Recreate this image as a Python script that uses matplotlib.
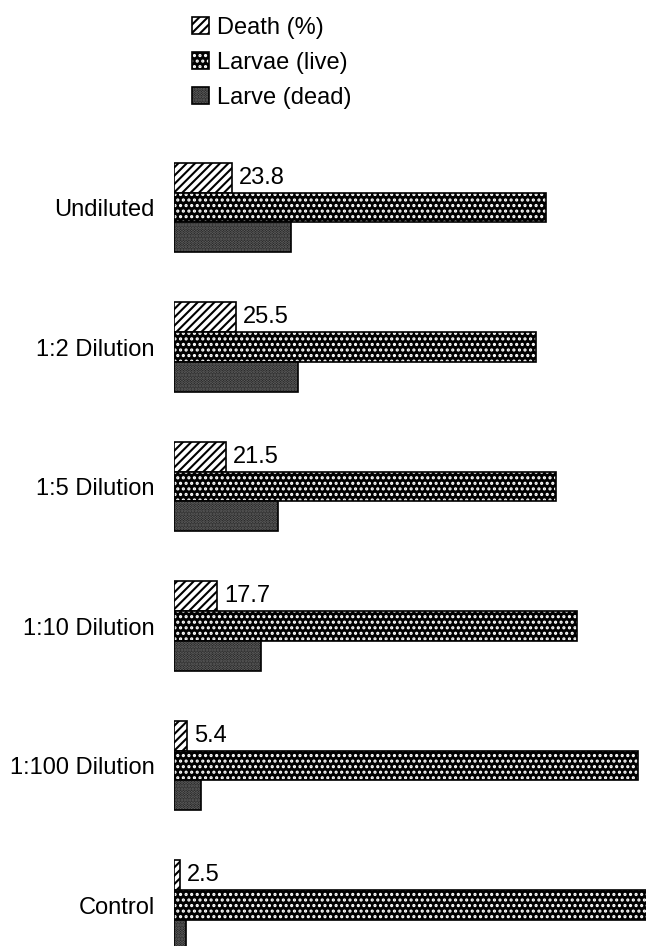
import matplotlib
matplotlib.use('Agg')
import matplotlib.pyplot as plt
from matplotlib.patches import Patch
from matplotlib.legend_handler import HandlerTuple
import numpy as np

groups = ['Undiluted', '1:2 Dilution', '1:5 Dilution', '1:10 Dilution',
          '1:100 Dilution', 'Control']
death_pct = [23.8, 25.5, 21.5, 17.7, 5.4, 2.5]
larvae_live = [153, 149, 157, 166, 191, 195]
larvae_dead = [48, 51, 43, 36, 11, 5]

plt.rcParams['font.family'] = ['Liberation Sans', 'DejaVu Sans']
plt.rcParams['hatch.linewidth'] = 1.5

W, H = 646, 946
fig = plt.figure(figsize=(W / 100, H / 100), dpi=100)
# axes from x=174px to the right edge, full height
ax = fig.add_axes([174 / W, 0, 1 - 174 / W, 1])

y = np.arange(len(groups))
h = 0.215

#Styles for the three series
death_style = dict(facecolor='white', edgecolor='black', hatch='////', linewidth=1.2)
live_style = dict(facecolor='black', edgecolor='white', hatch='...', linewidth=0)
dead_style = dict(facecolor='#161616', edgecolor='#6e6e6e', hatch='......', linewidth=0)
edge_style = dict(fill=False, edgecolor='black', linewidth=1.2)

ax.barh(y - h, death_pct, height=h, **death_style)
ax.barh(y, larvae_live, height=h, **live_style)
ax.barh(y, larvae_live, height=h, **edge_style)
ax.barh(y + h, larvae_dead, height=h, **dead_style)
ax.barh(y + h, larvae_dead, height=h, **edge_style)

for yi, v in zip(y, death_pct):
    ax.annotate('{0}'.format(v), xy=(v, yi - h), xytext=(5, 0),
                textcoords='offset points', va='center', ha='left', fontsize=17)

ax.set_xlim(0, 472 / 2.43)
# 207.5px = first live bar centre, 139.5px between groups
ax.set_ylim((H - 207.5) / 139.5, -207.5 / 139.5)
ax.set_yticks(y)
ax.set_yticklabels(groups, fontsize=17)
ax.tick_params(axis='y', length=0, pad=14)
ax.set_xticks([])
for s in ax.spines.values():
    s.set_visible(False)

#Legend
handles = [Patch(**death_style),
           (Patch(**live_style), Patch(**edge_style)),
           (Patch(**dead_style), Patch(**edge_style))]
fig.legend(handles, ['Death (%)', 'Larvae (live)', 'Larve (dead)'],
           handler_map={tuple: HandlerTuple(ndivide=1, pad=0)},
           loc='upper left', bbox_to_anchor=(192 / W, 1 - 17 / H),
           frameon=False, fontsize=17, handlelength=0.7, handleheight=0.7,
           handletextpad=0.35, labelspacing=0.55, borderpad=0, borderaxespad=0)

fig.savefig('out.png', dpi=100)
